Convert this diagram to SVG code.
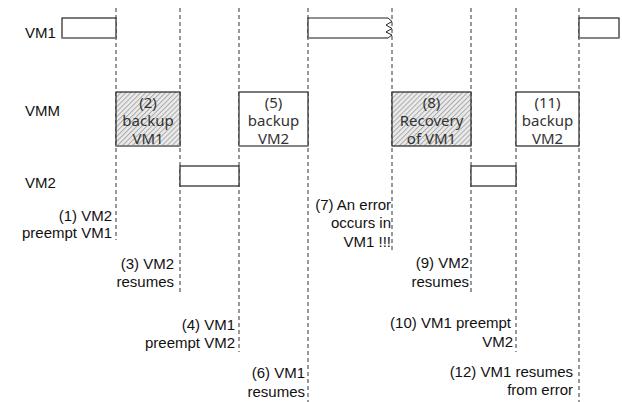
<svg xmlns="http://www.w3.org/2000/svg" width="622" height="402" viewBox="0 0 622 402">
<style>
.bg{fill:#fff}
.box{fill:#fff;stroke:#222;stroke-width:1.2}
.hatch{fill:url(#hatch);stroke:#222;stroke-width:1.2}
.shadow{stroke:#888;stroke-width:1.6;fill:none}
.dash{stroke:#333;stroke-width:1;stroke-dasharray:4 3;fill:none}
.row{font-family:"Liberation Sans",Arial,sans-serif;font-size:15px;fill:#111}
.in{font-family:"Noto Sans","Liberation Sans",sans-serif;font-size:15px;fill:#333;text-anchor:middle}
.note{font-family:"Liberation Sans",Arial,sans-serif;font-size:15px;fill:#111;text-anchor:end}
</style>
<defs>
<pattern id="hatch" patternUnits="userSpaceOnUse" width="3.5" height="3.5" patternTransform="rotate(45)">
<rect width="3.5" height="3.5" fill="#ebebeb"/>
<line x1="0.5" y1="0" x2="0.5" y2="3.5" stroke="#aaa" stroke-width="1"/>
</pattern>
</defs>
<rect class="bg" width="622" height="402"/>
<g id="connectors">
<line class="dash" x1="116" y1="8" x2="116" y2="240"/>
<line class="dash" x1="180" y1="8" x2="180" y2="292"/>
<line class="dash" x1="239" y1="8" x2="239" y2="352"/>
<line class="dash" x1="308" y1="8" x2="308" y2="402"/>
<line class="dash" x1="392" y1="8" x2="392" y2="250"/>
<line class="dash" x1="471" y1="8" x2="471" y2="292"/>
<line class="dash" x1="516" y1="8" x2="516" y2="352"/>
<line class="dash" x1="579" y1="8" x2="579" y2="402"/>
</g>
<g id="labels">
<text class="row" x="25" y="38">VM1</text>
<text class="row" x="25" y="116">VMM</text>
<text class="row" x="25" y="188">VM2</text>
</g>
<g id="vm1-run1">
<rect class="box" x="62" y="18" width="54" height="20"/>
<line class="shadow" x1="62" y1="38" x2="116" y2="38"/>
</g>
<g id="vm1-run2">
<path class="box" d="M388,18 H308 V38 H388"/>
<path d="M388,18 L392,21.5 L386,25 L392,28.5 L386,32 L392,35 L388,38" fill="none" stroke="#222" stroke-width="1"/>
<line class="shadow" x1="308" y1="38" x2="388" y2="38"/>
</g>
<g id="vm1-run3">
<rect class="box" x="579" y="18" width="40" height="20"/>
<line class="shadow" x1="579" y1="38" x2="619" y2="38"/>
</g>
<g id="backup-vm1">
<rect class="hatch" x="116" y="92" width="64" height="54"/>
<line class="shadow" x1="116" y1="146" x2="180" y2="146"/>
<text class="in" x="148" y="108">(2)</text>
<text class="in" x="148" y="126">backup</text>
<text class="in" x="148" y="144">VM1</text>
</g>
<g id="backup-vm2-a">
<rect class="box" x="239" y="92" width="69" height="54"/>
<line class="shadow" x1="239" y1="146" x2="308" y2="146"/>
<text class="in" x="273.5" y="108">(5)</text>
<text class="in" x="273.5" y="126">backup</text>
<text class="in" x="273.5" y="144">VM2</text>
</g>
<g id="recovery-vm1">
<rect class="hatch" x="392" y="92" width="79" height="54"/>
<text class="in" x="431.5" y="108">(8)</text>
<text class="in" x="431.5" y="126">Recovery</text>
<text class="in" x="431.5" y="144">of VM1</text>
</g>
<g id="backup-vm2-b">
<rect class="box" x="516" y="92" width="63" height="54"/>
<text class="in" x="547.5" y="108">(11)</text>
<text class="in" x="547.5" y="126">backup</text>
<text class="in" x="547.5" y="144">VM2</text>
</g>
<g id="vm2-run1">
<rect class="box" x="180" y="166" width="59" height="20"/>
</g>
<g id="vm2-run2">
<rect class="box" x="471" y="166" width="45" height="20"/>
</g>
<g id="notes">
<text class="note" x="112" y="221">(1) VM2</text>
<text class="note" x="112" y="238">preempt VM1</text>
<text class="note" x="174" y="269">(3) VM2</text>
<text class="note" x="174" y="287">resumes</text>
<text class="note" x="235" y="330">(4) VM1</text>
<text class="note" x="235" y="348">preempt VM2</text>
<text class="note" x="305" y="378">(6) VM1</text>
<text class="note" x="305" y="397">resumes</text>
<text class="note" x="391" y="210">(7) An error</text>
<text class="note" x="391" y="228">occurs in</text>
<text class="note" x="391" y="247">VM1 !!!</text>
<text class="note" x="469" y="268">(9) VM2</text>
<text class="note" x="469" y="287">resumes</text>
<text class="note" x="511" y="328">(10) VM1 preempt</text>
<text class="note" x="513" y="347">VM2</text>
<text class="note" x="573" y="377">(12) VM1 resumes</text>
<text class="note" x="573" y="395">from error</text>
</g>
</svg>
